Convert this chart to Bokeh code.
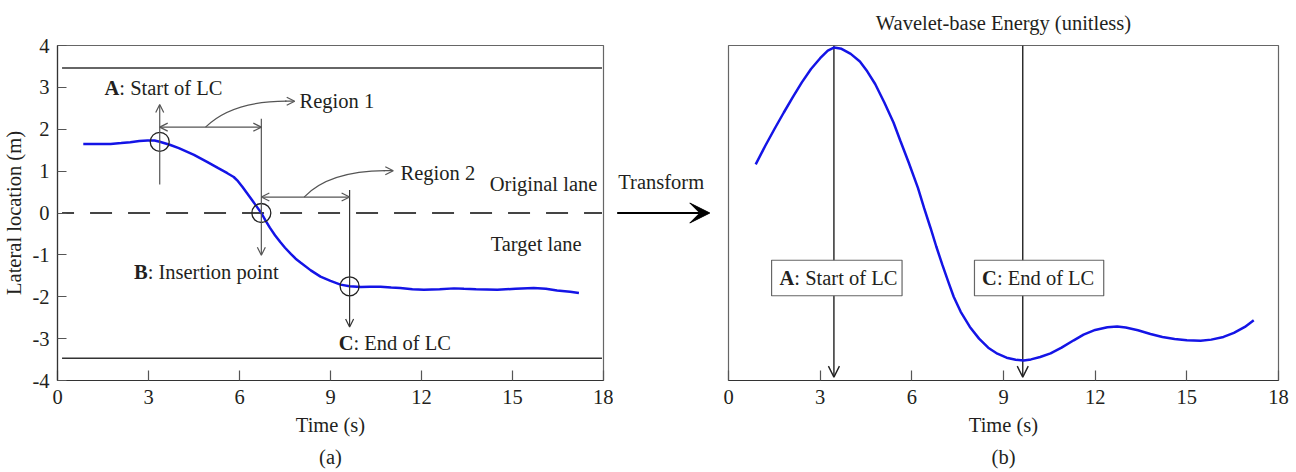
from bokeh.plotting import figure
from bokeh.layouts import row
from bokeh.models import Range1d, FixedTicker, Arrow, OpenHead, VeeHead, Title
from bokeh.core.properties import value
from bokeh.embed import file_html
from bokeh.resources import INLINE

FONT = "Liberation Serif"
FS = "20.5px"
TXT = "#231f20"
BLUE = "#1414e6"
GREY = "#555555"

# ---------------- data: panel (a) lateral location ----------------
lat_t = [0.85, 1.3, 1.75, 2.1, 2.4, 2.7, 2.97, 3.2, 3.37, 3.7, 4.0, 4.5, 4.93, 5.3,
         5.6, 5.81, 5.95, 6.1, 6.25, 6.4, 6.55, 6.72, 6.85, 7.0, 7.17, 7.35, 7.5,
         7.7, 7.85, 8.01, 8.35, 8.67, 9.0, 9.33, 9.63, 10.0, 10.3, 10.65, 11.0, 11.3,
         11.7, 12.08, 12.6, 13.07, 13.4, 13.8, 14.5, 15.1, 15.7, 16.1, 16.47, 16.9, 17.19]
lat_y = [1.65, 1.65, 1.65, 1.67, 1.69, 1.72, 1.73, 1.73, 1.70, 1.63, 1.55, 1.39, 1.22, 1.07,
         0.95, 0.86, 0.76, 0.62, 0.47, 0.32, 0.17, 0.0, -0.17, -0.35, -0.53, -0.70, -0.83,
         -0.98, -1.09, -1.18, -1.37, -1.52, -1.62, -1.71, -1.75, -1.77, -1.76, -1.76, -1.78, -1.79,
         -1.82, -1.83, -1.82, -1.80, -1.81, -1.82, -1.83, -1.81, -1.79, -1.81, -1.85, -1.88, -1.91]

lane_edges = [3.46, -3.47]
lane_span = [0.15, 17.95]

key_t = [3.37, 6.72, 9.63]          # A, B, C
key_y = [1.70, 0.0, -1.75]

x_ticks = [0, 3, 6, 9, 12, 15, 18]
y_ticks = [-4, -3, -2, -1, 0, 1, 2, 3, 4]
y_tick_labels = {t: str(t) for t in y_ticks}

# ---------------- data: panel (b) wavelet energy ----------------
en_t = [0.89, 1.2, 1.5, 1.81, 2.1, 2.4, 2.7, 3.0, 3.25, 3.45, 3.7, 4.0, 4.3, 4.54, 4.8,
        5.1, 5.4, 5.63, 5.9, 6.2, 6.4, 6.61, 6.8, 7.0, 7.2, 7.37, 7.6, 7.9, 8.2, 8.5,
        8.8, 9.1, 9.4, 9.66, 9.9, 10.2, 10.54, 10.9, 11.3, 11.62, 12.0, 12.4, 12.72,
        13.0, 13.4, 13.81, 14.2, 14.6, 15.0, 15.45, 15.8, 16.2, 16.54, 16.9, 17.19]
en_v = [0.645, 0.70, 0.75, 0.80, 0.845, 0.89, 0.93, 0.962, 0.985, 0.994, 0.99, 0.975,
        0.952, 0.923, 0.885, 0.83, 0.77, 0.714, 0.65, 0.575, 0.515, 0.456, 0.40, 0.345,
        0.293, 0.25, 0.205, 0.16, 0.125, 0.098, 0.08, 0.068, 0.062, 0.06, 0.063, 0.07,
        0.081, 0.098, 0.12, 0.137, 0.151, 0.159, 0.161, 0.158, 0.15, 0.139, 0.13, 0.124,
        0.12, 0.119, 0.122, 0.13, 0.142, 0.16, 0.18]
en_marks = [3.45, 9.63]


def style_axis(ax, tick_in=10):
    ax.axis_line_color = "#333333"
    ax.axis_line_width = 1.2
    ax.major_tick_line_color = "#555555"
    ax.major_tick_line_width = 1.2
    ax.major_tick_in = tick_in
    ax.major_tick_out = 0
    ax.minor_tick_line_color = None
    ax.major_label_text_font = FONT
    ax.major_label_text_font_size = FS
    ax.major_label_text_color = TXT
    ax.axis_label_text_font = FONT
    ax.axis_label_text_font_size = FS
    ax.axis_label_text_font_style = "normal"
    ax.axis_label_text_color = TXT


def add_text(p, x, y, txt, align="left", style="normal", x_offset=0):
    p.text(x=[x], y=[y], text=[txt], text_font=value(FONT), text_font_size=FS,
           text_font_style=style, text_color=TXT, text_align=align,
           text_baseline="middle", x_offset=x_offset)


def open_arrow(p, x0, y0, x1, y1, both=False, size=8, color=GREY, lw=1.2, level="annotation"):
    head = dict(size=size, line_color=color, line_width=lw)
    arr = Arrow(end=OpenHead(**head), start=OpenHead(**head) if both else None,
                x_start=x0, y_start=y0, x_end=x1, y_end=y1,
                line_color=color, line_width=lw, level=level)
    p.add_layout(arr)


# ================= panel (a) =================
pa = figure(width=613, height=472, x_range=Range1d(0, 18), y_range=Range1d(-4, 4),
            output_backend="svg", toolbar_location=None,
            min_border_left=57, min_border_right=10, min_border_top=45, min_border_bottom=92)
pa.grid.visible = False
pa.outline_line_color = "#666666"
pa.outline_line_width = 1.2

pa.xaxis.ticker = FixedTicker(ticks=x_ticks)
pa.yaxis.ticker = FixedTicker(ticks=y_ticks)
pa.yaxis.major_label_overrides = y_tick_labels
pa.xaxis.axis_label = "Time (s)"
pa.yaxis.axis_label = "Lateral location (m)"
style_axis(pa.xaxis[0], 10)
style_axis(pa.yaxis[0], 9)
pa.xaxis.major_label_standoff = 9
pa.yaxis.major_label_standoff = 8
pa.yaxis.axis_label_standoff = 4
pa.xaxis.axis_label_standoff = 7
pa.add_layout(Title(text="(a)", align="center", text_font=FONT, text_font_size=FS,
                    text_font_style="normal", text_color=TXT), "below")

# lane boundaries and centre dashed line
pa.segment(x0=[lane_span[0]] * 2, x1=[lane_span[1]] * 2, y0=lane_edges, y1=lane_edges,
           line_color="#333333", line_width=1.5)
pa.line(x=lane_span, y=[0, 0], line_color="#444444", line_width=2,
        line_dash="22 16", line_dash_offset=10)

# trajectory
pa.line(x=lat_t, y=lat_y, line_color=BLUE, line_width=2.5)
pa.scatter(x=key_t, y=key_y, marker="circle", size=19, fill_color=None,
           line_color="#222222", line_width=1.3)

# annotations A / B / C
open_arrow(pa, key_t[0], 0.68, key_t[0], 2.59)
open_arrow(pa, key_t[1], 2.25, key_t[1], -1.01)
open_arrow(pa, key_t[2], 0.55, key_t[2], -2.72, color="#333333")
open_arrow(pa, key_t[0], 2.05, key_t[1], 2.05, both=True)
open_arrow(pa, key_t[1], 0.38, key_t[2], 0.38, both=True)

pa.quadratic(x0=[4.88], y0=[2.05], x1=[7.55], y1=[2.67], cx=[5.75], cy=[2.67],
             line_color=GREY, line_width=1.2)
open_arrow(pa, 7.5, 2.67, 7.82, 2.67)
pa.quadratic(x0=[8.13], y0=[0.38], x1=[10.8], y1=[1.01], cx=[8.95], cy=[1.0],
             line_color=GREY, line_width=1.2)
open_arrow(pa, 10.75, 1.01, 11.07, 1.01)

add_text(pa, 7.98, 2.67, "Region 1")
add_text(pa, 11.31, 0.95, "Region 2")
add_text(pa, 1.55, 2.99, "A", style="bold")
add_text(pa, 1.55, 2.99, ": Start of LC", x_offset=14.8)
add_text(pa, 2.52, -1.41, "B", style="bold")
add_text(pa, 2.52, -1.41, ": Insertion point", x_offset=13.7)
add_text(pa, 9.27, -3.11, "C", style="bold")
add_text(pa, 9.27, -3.11, ": End of LC", x_offset=14.8)
add_text(pa, 14.25, 0.70, "Original lane")
add_text(pa, 14.28, -0.73, "Target lane")

# ================= middle: transform arrow =================
pm = figure(width=105, height=472, x_range=Range1d(0, 1), y_range=Range1d(-4, 4),
            x_axis_location=None, y_axis_location=None,
            output_backend="svg", toolbar_location=None,
            min_border_left=0, min_border_right=0, min_border_top=45, min_border_bottom=92)
pm.grid.visible = False
pm.outline_line_color = None
pm.add_layout(Arrow(end=VeeHead(size=20, fill_color="black", line_color="black"),
                    x_start=0.035, y_start=0.0, x_end=0.917, y_end=0.0,
                    line_color="black", line_width=1.8))
add_text(pm, 0.454, 0.735, "Transform", align="center")

# ================= panel (b) =================
pb = figure(width=578, height=472, x_range=Range1d(0, 18), y_range=Range1d(0, 1),
            y_axis_location=None, output_backend="svg", toolbar_location=None,
            min_border_left=10, min_border_right=18, min_border_top=45, min_border_bottom=92)
pb.grid.visible = False
pb.outline_line_color = "#666666"
pb.outline_line_width = 1.2
# small spacer between the frame and the title, then the title itself
pb.add_layout(Title(text=" ", text_font=FONT, text_font_size="5px", standoff=0), "above")
pb.add_layout(Title(text="Wavelet-base Energy (unitless)", align="center", text_font=FONT,
                    text_font_size=FS, text_font_style="normal", text_color=TXT), "above")

pb.xaxis.ticker = FixedTicker(ticks=x_ticks)
pb.xaxis.axis_label = "Time (s)"
style_axis(pb.xaxis[0], 10)
pb.xaxis.major_label_standoff = 9
pb.xaxis.axis_label_standoff = 7
pb.add_layout(Title(text="(b)", align="center", text_font=FONT, text_font_size=FS,
                    text_font_style="normal", text_color=TXT), "below")

pb.line(x=en_t, y=en_v, line_color=BLUE, line_width=2.5)
for xm in en_marks:
    open_arrow(pb, xm, 1.0, xm, 0.01, size=11, color="#222222", lw=1.4, level="underlay")

# label boxes
pb.quad(left=[1.41, 8.05], right=[5.68, 12.28], bottom=[0.253, 0.253], top=[0.359, 0.359],
        fill_color="white", line_color="#666666", line_width=1.2)
add_text(pb, 1.67, 0.307, "A", style="bold")
add_text(pb, 1.67, 0.307, ": Start of LC", x_offset=14.8)
add_text(pb, 8.30, 0.307, "C", style="bold")
add_text(pb, 8.30, 0.307, ": End of LC", x_offset=14.8)

layout = row(pa, pm, pb)
open("out.html", "w").write(file_html(layout, INLINE))
